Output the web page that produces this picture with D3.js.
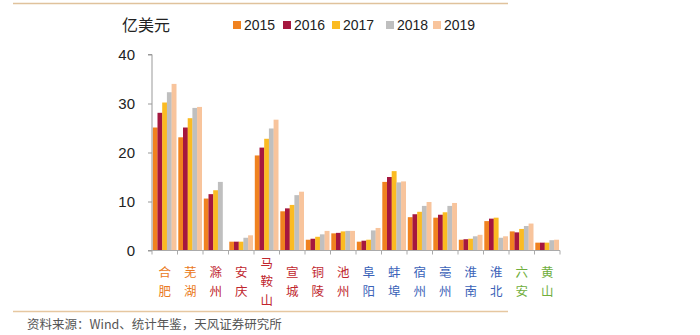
<!DOCTYPE html>
<html><head><meta charset="utf-8">
<script src="https://cdn.jsdelivr.net/npm/d3@7"></script>
<style>body{margin:0;background:#fff}svg{display:block}</style>
</head><body><svg id="c" width="700" height="335"></svg>
<script>
const categories = ["合肥","芜湖","滁州","安庆","马鞍山","宣城","铜陵","池州","阜阳","蚌埠","宿州","亳州","淮南","淮北","六安","黄山"];
const labelColors = ["#ea7a22","#ea7a22","#c0262d","#c0262d","#c0262d","#c0262d","#c0262d","#c0262d","#3a62b8","#3a62b8","#3a62b8","#3a62b8","#3a62b8","#3a62b8","#6fae3c","#6fae3c"];
const years = ["2015","2016","2017","2018","2019"];
const yearColors = ["#f08220","#a5173f","#fbbb22","#bfbfbf","#f8c49c"];
const v2015 = [25.1,23.1,10.6,1.8,19.4,8.0,2.2,3.5,1.8,14.0,6.8,6.7,2.2,6.0,3.9,1.6];
const v2016 = [28.1,25.1,11.5,1.8,21.0,8.6,2.4,3.6,2.0,15.0,7.4,7.3,2.3,6.5,3.7,1.6];
const v2017 = [30.2,27.0,12.3,1.8,22.8,9.3,2.8,3.9,2.2,16.2,7.9,7.8,2.4,6.7,4.4,1.6];
const v2018 = [32.3,29.1,14.0,2.6,24.9,11.3,3.3,4.0,4.1,13.9,9.1,9.1,2.9,2.6,5.0,2.1];
const v2019 = [34.0,29.3,null,3.1,26.7,12.0,4.0,4.0,4.6,14.1,9.9,9.7,3.2,2.9,5.5,2.2];
const series = [v2015,v2016,v2017,v2018,v2019];
const yTicks = [0,10,20,30,40];

const svg = d3.select("#c");
const font = "'Liberation Sans', Arial, sans-serif";
const cjk = "'Noto Sans CJK SC', sans-serif";

// frame lines
svg.append("line").attr("x1",13).attr("x2",508).attr("y1",3.5).attr("y2",3.5).attr("stroke","#e0c29c").attr("stroke-width",1.5);
svg.append("line").attr("x1",13).attr("x2",508).attr("y1",311.5).attr("y2",311.5).attr("stroke","#e6c7a0").attr("stroke-width",1.5);

const x0 = d3.scaleBand().domain(categories).range([152,560]).paddingInner(0).paddingOuter(0);
const x1 = d3.scaleBand().domain(years).range([0.8, x0.bandwidth()-1.2]).padding(0);
const y = d3.scaleLinear().domain([0,40]).range([250.5,54.5]);

// bars
const g = svg.append("g");
categories.forEach((c,i)=>{
  years.forEach((yr,j)=>{
    const v = series[j][i];
    if (v==null) return;
    g.append("rect").attr("x",x0(c)+x1(yr)).attr("width",x1.bandwidth()+0.2)
      .attr("y",y(v)).attr("height",y(0)-y(v)).attr("fill",yearColors[j]);
  });
});

// y axis
const ya = svg.append("g").attr("transform","translate(152,0)")
  .call(d3.axisLeft(y).tickValues(yTicks).tickSize(4).tickPadding(13).tickFormat(d3.format("d")));
ya.select(".domain").attr("stroke","#999").attr("d","M-4,54.5H0V250.5H-4");
ya.selectAll(".tick line").attr("stroke","#999");
ya.selectAll("text").attr("font-family",font).attr("font-size",15).attr("fill","#222");

// x axis
const xa = svg.append("g").attr("transform","translate(0,250.5)");
xa.append("line").attr("x1",152).attr("x2",560).attr("stroke","#aaa");
const bounds = categories.map(c=>x0(c)).concat([560]);
xa.selectAll("line.t").data(bounds).enter().append("line").attr("class","t")
  .attr("x1",d=>d).attr("x2",d=>d).attr("y1",0).attr("y2",4).attr("stroke","#aaa");

// vertical category labels (one text per character)
categories.forEach((c,i)=>{
  const chars = Array.from(c);
  chars.forEach((ch,k)=>{
    const cy = chars.length===3 ? 263.5 + k*18.5 : 273 + k*18.5;
    svg.append("text").attr("font-family",cjk).attr("font-size",12.5)
      .attr("fill",labelColors[i]).attr("text-anchor","middle")
      .attr("x",x0(c)+x0.bandwidth()/2).attr("y",cy).attr("dy","0.35em").text(ch);
  });
});

// unit title
svg.append("text").attr("x",122).attr("y",25).attr("dy","0.35em").attr("font-family",cjk)
  .attr("font-size",16).attr("fill","#222").text("亿美元");

// legend
const legX = [233,283,332,386,433];
years.forEach((yr,j)=>{
  svg.append("rect").attr("x",legX[j]).attr("y",21).attr("width",8).attr("height",8).attr("fill",yearColors[j]);
  svg.append("text").attr("x",legX[j]+11).attr("y",25).attr("dy","0.35em").attr("font-family",font)
    .attr("font-size",14).attr("fill","#222").text(yr);
});

// source
svg.append("text").attr("x",27).attr("y",325).attr("dy","0.35em").attr("font-family",cjk)
  .attr("font-size",12.5).attr("fill","#555").text("资料来源：Wind、统计年鉴，天风证券研究所");
</script></body></html>
